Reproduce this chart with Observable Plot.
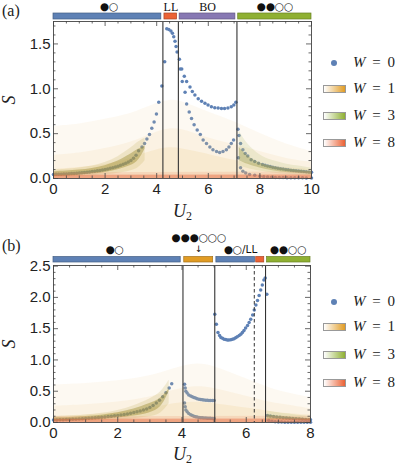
<!DOCTYPE html>
<html><head><meta charset="utf-8">
<script src="https://cdn.jsdelivr.net/npm/d3@7"></script>
<script src="https://cdn.jsdelivr.net/npm/@observablehq/plot@0.6"></script>
<style>
body{margin:0;background:#fff;}
#wrap{position:relative;width:395px;height:465px;overflow:hidden;font-family:"Liberation Sans",Arial,sans-serif;}
.panel{position:absolute;left:0;}
.lab{position:absolute;font-family:"Liberation Serif","Times New Roman",serif;color:#222;white-space:nowrap;line-height:1;}
.leg{position:absolute;font-family:"Liberation Serif","Times New Roman",serif;font-size:15px;color:#222;white-space:nowrap;line-height:1;}
.sw{position:absolute;width:21px;height:6px;border:1px solid #999;}
.dotl{position:absolute;width:6px;height:6px;border-radius:50%;background:#5e81b5;}
</style></head><body><div id="wrap"></div>
<script>
// ---------- Panel (a) data ----------
const aW0Rise = [[0,0.045],[0.1,0.046],[0.2,0.047],[0.3,0.048],[0.4,0.05],[0.5,0.051],[0.6,0.053],[0.7,0.055],[0.8,0.057],[0.9,0.059],[1.0,0.061],[1.1,0.064],[1.2,0.067],[1.3,0.07],[1.4,0.073],[1.5,0.077],[1.6,0.081],[1.7,0.085],[1.8,0.09],[1.9,0.095],[2.0,0.1],[2.1,0.106],[2.2,0.113],[2.3,0.12],[2.4,0.128],[2.5,0.137],[2.6,0.147],[2.7,0.158],[2.8,0.171],[2.9,0.185],[3.0,0.2],[3.1,0.225],[3.2,0.26],[3.3,0.31],[3.43,0.35],[3.53,0.39],[3.62,0.44],[3.72,0.49],[3.81,0.56],[3.9,0.63],[3.99,0.72],[4.08,0.85],[4.2,1.03],[4.31,1.3]];
const aW0LL = [[4.39,1.67],[4.47,1.66],[4.55,1.645],[4.61,1.62],[4.66,1.58],[4.71,1.53],[4.75,1.47],[4.79,1.41]];
const aW0BOstart = [[4.88,1.33],[4.91,1.22],[4.97,1.22]];
const aW0BOupper = [[5.07,1.14],[5.16,1.08],[5.29,1.02],[5.38,0.97],[5.48,0.93],[5.61,0.89],[5.74,0.86],[5.87,0.84],[5.99,0.82],[6.12,0.8],[6.25,0.79],[6.38,0.785],[6.51,0.78],[6.63,0.78],[6.76,0.785],[6.89,0.8],[6.99,0.82],[7.07,0.85]];
const aW0BOlower = [[4.99,1.08],[5.1,0.96],[5.16,0.83],[5.26,0.74],[5.35,0.67],[5.45,0.6],[5.57,0.54],[5.69,0.49],[5.8,0.43],[5.93,0.39],[6.06,0.35],[6.18,0.32],[6.32,0.3],[6.44,0.29],[6.57,0.3],[6.7,0.32],[6.8,0.35],[6.89,0.39],[6.98,0.43]];
const aW0RightUpper = [[7.15,0.55],[7.19,0.48],[7.25,0.39],[7.34,0.32],[7.43,0.28],[7.53,0.25],[7.66,0.21],[7.8,0.19],[7.95,0.17],[8.1,0.155],[8.2,0.147],[8.3,0.14],[8.4,0.133],[8.5,0.126],[8.6,0.12],[8.7,0.115],[8.8,0.11],[8.9,0.105],[9.0,0.1],[9.1,0.097],[9.2,0.093],[9.3,0.09],[9.4,0.087],[9.5,0.084],[9.6,0.081],[9.7,0.078],[9.8,0.075],[9.9,0.072],[10,0.07]];
const aW0RightLower = [[7.17,0.23],[7.25,0.12],[7.34,0.08],[7.45,0.06],[7.6,0.045],[7.8,0.035],[8.0,0.025],[8.15,0.02],[8.3,0.017],[8.45,0.014],[8.6,0.012],[8.75,0.011],[8.9,0.01],[9.05,0.009],[9.2,0.008],[9.35,0.008],[9.5,0.007],[9.65,0.007],[9.8,0.006],[10,0.006]];

const aCloudU     = [0,1,2,3,3.5,4,4.5,5,5.5,6,7,8,9,10];
const aCloudOuter = [0.58,0.6,0.66,0.72,0.78,0.84,0.88,0.86,0.8,0.74,0.64,0.5,0.38,0.3];
const aCloudMid   = [0.26,0.28,0.33,0.4,0.46,0.52,0.56,0.55,0.5,0.45,0.38,0.3,0.22,0.18];
const aCloudInner = [0.1,0.12,0.15,0.22,0.28,0.32,0.35,0.33,0.3,0.27,0.2,0.15,0.12,0.1];
const aOliveU  = [0,0.5,1,1.5,2,2.5,3,3.3,3.55];
const aOliveLo = [0.02,0.028,0.036,0.048,0.066,0.095,0.14,0.19,0.33];
const aOliveHi = [0.075,0.082,0.094,0.11,0.14,0.19,0.27,0.33,0.36];
const aGreenU  = [7.2,7.5,8,8.5,9,9.5,10];
const aGreenLo = [0.2,0.16,0.115,0.085,0.065,0.055,0.045];
const aGreenHi = [0.46,0.33,0.22,0.17,0.14,0.12,0.1];
const aRedU  = [0,10];
const aRedHi = [0.035,0.04];

const aLines = [4.24,4.84,7.11];
const aBar = [
  {x1:0,x2:4.18,c:"#5e81b5"},
  {x1:4.3,x2:4.79,c:"#eb6235"},
  {x1:4.89,x2:7.05,c:"#8778b3"},
  {x1:7.16,x2:10,c:"#8fb032"}];
const aLabels = [
  {u:2.15,t:"●○",serif:false},
  {u:4.55,t:"LL",serif:true},
  {u:5.97,t:"BO",serif:true},
  {u:8.58,t:"●●○○",serif:false}];
const aXTicks = [0,2,4,6,8,10];
const aYTicks = [0,0.5,1,1.5];

// ---------- Panel (b) data ----------
const bW0Rise = [[0,0.04],[0.1,0.041],[0.2,0.043],[0.3,0.044],[0.4,0.046],[0.5,0.048],[0.6,0.05],[0.7,0.053],[0.8,0.056],[0.9,0.059],[1.0,0.062],[1.1,0.066],[1.2,0.07],[1.3,0.074],[1.4,0.079],[1.5,0.084],[1.6,0.089],[1.7,0.094],[1.8,0.1],[1.9,0.106],[2.0,0.113],[2.1,0.12],[2.2,0.128],[2.3,0.137],[2.4,0.147],[2.5,0.158],[2.6,0.17],[2.7,0.183],[2.8,0.198],[2.9,0.215],[3.0,0.24],[3.1,0.27],[3.2,0.31],[3.3,0.355],[3.4,0.41],[3.5,0.475],[3.6,0.55],[3.68,0.62]];
const bW0MidUpper = [[4.08,0.61],[4.1,0.55],[4.12,0.5],[4.16,0.47],[4.21,0.44],[4.27,0.425],[4.32,0.41],[4.37,0.4],[4.42,0.39],[4.47,0.38],[4.53,0.372],[4.58,0.367],[4.63,0.363],[4.68,0.36],[4.74,0.357],[4.79,0.355],[4.84,0.353],[4.89,0.352],[4.95,0.35],[5.0,0.35]];
const bW0MidLower = [[4.08,0.31],[4.1,0.25],[4.12,0.2],[4.16,0.17],[4.21,0.145],[4.27,0.125],[4.32,0.11],[4.37,0.1],[4.42,0.092],[4.47,0.086],[4.53,0.081],[4.58,0.077],[4.63,0.074],[4.68,0.072],[4.74,0.07],[4.79,0.068],[4.84,0.067],[4.89,0.066],[4.95,0.065],[5.0,0.065]];
const bW0High = [[5.02,1.73],[5.07,1.57],[5.12,1.44],[5.17,1.39],[5.21,1.36],[5.26,1.345],[5.31,1.33],[5.36,1.325],[5.41,1.32],[5.46,1.32],[5.52,1.322],[5.57,1.33],[5.62,1.34],[5.67,1.355],[5.72,1.37],[5.78,1.39],[5.83,1.41],[5.88,1.44],[5.93,1.47],[5.98,1.51],[6.04,1.55],[6.09,1.6],[6.14,1.65],[6.2,1.72],[6.25,1.8],[6.3,1.88],[6.35,1.95],[6.4,2.03],[6.45,2.12],[6.5,2.2],[6.55,2.28],[6.59,2.31],[6.64,2.05]];
const bW0RightUpper = [[6.66,0.11],[6.75,0.102],[6.85,0.095],[6.95,0.088],[7.05,0.082],[7.15,0.077],[7.25,0.072],[7.35,0.068],[7.45,0.064],[7.55,0.06],[7.65,0.056],[7.75,0.052],[7.85,0.048],[7.95,0.045],[8.0,0.044]];
const bW0RightLower = [[6.7,0.03],[6.8,0.02],[6.9,0.012],[7.0,0.008],[7.1,0.006],[7.2,0.005],[7.3,0.005],[7.4,0.004],[7.5,0.004],[7.6,0.004],[7.7,0.004],[7.8,0.004],[7.9,0.004],[8.0,0.004]];

const bCloudU     = [0,1,2,3,3.5,4,4.5,5,5.5,6,6.5,7,8];
const bCloudOuter = [0.6,0.62,0.66,0.74,0.82,0.9,0.95,0.9,0.8,0.7,0.6,0.5,0.4];
const bCloudMid   = [0.26,0.28,0.32,0.4,0.48,0.55,0.58,0.55,0.48,0.42,0.35,0.3,0.22];
const bCloudInner = [0.1,0.12,0.15,0.22,0.28,0.32,0.33,0.3,0.27,0.23,0.2,0.15,0.12];
const bOliveU  = [0,0.5,1,1.5,2,2.5,3,3.35,3.6];
const bOliveLo = [0.02,0.025,0.034,0.048,0.068,0.1,0.15,0.22,0.5];
const bOliveHi = [0.075,0.08,0.095,0.115,0.15,0.21,0.3,0.38,0.54];
const bGreenU  = [6.65,7.2,8];
const bGreenLo = [0.05,0.04,0.03];
const bGreenHi = [0.16,0.12,0.08];
const bRedU  = [0,8];
const bRedHi = [0.05,0.055];

const bLines = [4.03,5.02,6.6];
const bDashed = [6.25];
const bBar = [
  {x1:0,x2:3.96,c:"#5e81b5"},
  {x1:4.07,x2:4.97,c:"#e19c24"},
  {x1:5.07,x2:6.27,c:"#5e81b5"},
  {x1:6.31,x2:6.56,c:"#eb6235"},
  {x1:6.65,x2:8,c:"#8fb032"}];
const bLabels = [
  {u:1.9,t:"●○",row:0},
  {u:4.52,t:"●●●○○○",row:1},
  {u:4.52,t:"↓",row:2},
  {u:5.82,t:"●○/LL",row:0},
  {u:7.3,t:"●●○○",row:0}];
const bXTicks = [0,2,4,6,8];
const bYTicks = [0,0.5,1,1.5,2,2.5];

const legendItems = [
  {w:"0",kind:"dot",c:"#5e81b5"},
  {w:"1",kind:"sw",c:"#e19c24"},
  {w:"3",kind:"sw",c:"#8fb032"},
  {w:"8",kind:"sw",c:"#eb6235"}];

const pairs = arr => arr.map(([u,s]) => ({u, s}));
const band = (U, lo, hi) => U.map((u,i) => ({u, lo: Array.isArray(lo) ? lo[i] : lo, hi: hi[i]}));

function range(a, b, step){ const r=[]; for(let v=a; v<=b+1e-9; v+=step) r.push(+v.toFixed(4)); return r; }

function makePanel(o){
  const pw = 395 - o.ml - o.mr, ph = o.h - o.mt - o.mb;
  const [x0,x1] = o.xd, [y0,y1] = o.yd;
  const kx = (x1-x0)/pw, ky = (y1-y0)/ph;
  const xMinor = range(x0, x1, 0.5), yMinor = range(y0, y1, 0.1);
  const isMajX = v => Math.abs(v/2 - Math.round(v/2)) < 1e-6;
  const isMajY = v => Math.abs(v/0.5 - Math.round(v/0.5)) < 1e-6;
  const len = v => v ? 5 : 2.5;
  const tickStroke = {stroke:"#444", strokeWidth:0.8};
  const barY1 = y1 + o.barGap*ky, barY2 = y1 + (o.barGap+o.barH)*ky;
  const bars = o.bar.map(d => ({...d, y1:barY1, y2:barY2, s:d3.color(d.c).darker(0.9).formatHex()}));
  const marks = [
    Plot.dot(o.dots, {x:"u", y:"s", r:1.75, fill:"#5e81b5"}),
    ...o.clouds.map(c => Plot.areaY(c.data, {x:"u", y1:"lo", y2:"hi", fill:c.fill, fillOpacity:c.op, curve:c.curve || "basis"})),
    Plot.ruleX(o.lines, {stroke:"#333", strokeWidth:1.1}),
    ...(o.dashed ? [Plot.ruleX(o.dashed, {stroke:"#333", strokeWidth:1, strokeDasharray:"3.5,2.5"})] : []),
    Plot.frame({stroke:"#555", strokeWidth:1}),
    // inward ticks
    Plot.ruleX(xMinor, {x:d=>d, y1:()=>y0, y2:d=>y0+len(isMajX(d))*ky, ...tickStroke}),
    Plot.ruleX(xMinor, {x:d=>d, y1:()=>y1, y2:d=>y1-len(isMajX(d))*ky, ...tickStroke}),
    Plot.ruleY(yMinor, {y:d=>d, x1:()=>x0, x2:d=>x0+len(isMajY(d))*kx, ...tickStroke}),
    Plot.ruleY(yMinor, {y:d=>d, x1:()=>x1, x2:d=>x1-len(isMajY(d))*kx, ...tickStroke}),
    Plot.axisX(o.xTicks, {tickSize:0, tickPadding:5, fontSize:15, tickFormat:d=>String(d), label:null}),
    Plot.axisY(o.yTicks, {tickSize:0, tickPadding:3, fontSize:15, tickFormat:d3.format(".1f"), label:null}),
    // phase bar
    Plot.rect(bars, {x1:"x1", x2:"x2", y1:"y1", y2:"y2", fill:"c", stroke:"s", strokeWidth:0.7}),
    ...o.labelMarks
  ];
  return Plot.plot({
    width:395, height:o.h,
    marginLeft:o.ml, marginRight:o.mr, marginTop:o.mt, marginBottom:o.mb,
    x:{domain:o.xd, axis:null},
    y:{domain:o.yd, axis:null},
    style:{fontFamily:"'Liberation Sans', Arial, sans-serif", color:"#222", background:"transparent", overflow:"visible"},
    marks
  });
}

const cloudLayers = (U, outer, mid, inner, oliveU, oliveLo, oliveHi, greenU, greenLo, greenHi, redU, redHi) => [
  {data:band(U,0,outer), fill:"#f0d49a", op:0.13},
  {data:band(U,0,mid), fill:"#ecc678", op:0.12},
  {data:band(U,0,inner), fill:"#e6b24e", op:0.12},
  {data:band(oliveU,oliveLo.map(v=>v*0.6),oliveHi.map(v=>v*1.25)), fill:"#c0a84e", op:0.2},
  {data:band(oliveU,oliveLo,oliveHi), fill:"#98892a", op:0.42},
  {data:band(greenU,greenLo.map(v=>v*0.7),greenHi.map(v=>v*1.15)), fill:"#b4bf70", op:0.2},
  {data:band(greenU,greenLo,greenHi.map(v=>v*0.75)), fill:"#8f9038", op:0.35},
  {data:band(redU,0,redHi.map(v=>v*1.8)), fill:"#eb8a65", op:0.2, curve:"linear"},
  {data:band(redU,0,redHi), fill:"#e8663c", op:0.45, curve:"linear"}
];

const wrap = document.getElementById("wrap");
const circFont = "'DejaVu Sans', sans-serif";

const chartA = makePanel({
  h:225, ml:53, mr:84, mt:21, mb:47, xd:[0,10], yd:[0,1.75],
  dots:pairs([...aW0Rise, ...aW0LL, ...aW0BOstart, ...aW0BOupper, ...aW0BOlower, ...aW0RightUpper, ...aW0RightLower]),
  clouds:cloudLayers(aCloudU,aCloudOuter,aCloudMid,aCloudInner,aOliveU,aOliveLo,aOliveHi,aGreenU,aGreenLo,aGreenHi,aRedU,aRedHi),
  lines:aLines, bar:aBar, barGap:2, barH:6, xTicks:aXTicks, yTicks:aYTicks,
  labelMarks:[
    Plot.text(aLabels.filter(d=>!d.serif), {x:"u", text:"t", frameAnchor:"top", lineAnchor:"middle", dy:-15, fontSize:10.5, fontFamily:circFont, fill:"#111"}),
    Plot.text(aLabels.filter(d=>d.serif), {x:"u", text:"t", frameAnchor:"top", lineAnchor:"middle", dy:-14, fontSize:12, fontFamily:"'Liberation Serif', serif", fill:"#111"})
  ]
});
chartA.classList.add("panel"); chartA.style.top = "0px";
wrap.appendChild(chartA);

const chartB = makePanel({
  h:240, ml:53, mr:85, mt:40, mb:43, xd:[0,8], yd:[0,2.51],
  dots:pairs([...bW0Rise, ...bW0MidUpper, ...bW0MidLower, ...bW0High, ...bW0RightUpper, ...bW0RightLower]),
  clouds:cloudLayers(bCloudU,bCloudOuter,bCloudMid,bCloudInner,bOliveU,bOliveLo,bOliveHi,bGreenU,bGreenLo,bGreenHi,bRedU,bRedHi),
  lines:bLines, dashed:bDashed, bar:bBar, barGap:3, barH:5.5, xTicks:bXTicks, yTicks:bYTicks,
  labelMarks:[
    Plot.text(bLabels.filter(d=>d.row===0), {x:"u", text:"t", frameAnchor:"top", lineAnchor:"middle", dy:-15.5, fontSize:10.5, fontFamily:circFont, fill:"#111"}),
    Plot.text(bLabels.filter(d=>d.row===1), {x:"u", text:"t", frameAnchor:"top", lineAnchor:"middle", dy:-28, fontSize:10.5, fontFamily:circFont, fill:"#111"}),
    Plot.text(bLabels.filter(d=>d.row===2), {x:"u", text:"t", frameAnchor:"top", lineAnchor:"middle", dy:-16.5, fontSize:9, fontFamily:circFont, fill:"#111"})
  ]
});
chartB.classList.add("panel"); chartB.style.top = "225px";
wrap.appendChild(chartB);

// text labels
function addLab(html, x, y, size, extra){
  const d = document.createElement("div");
  d.className = "lab"; d.innerHTML = html;
  d.style.left = x + "px"; d.style.top = y + "px"; d.style.fontSize = size + "px";
  if (extra) Object.assign(d.style, extra);
  wrap.appendChild(d);
  return d;
}
addLab("(a)", 2, 3, 16);
addLab("(b)", 2, 238, 16);
addLab("<i>S</i>", 4, 91, 18, {transform:"rotate(-90deg)", transformOrigin:"50% 50%"});
addLab("<i>S</i>", 4, 335, 18, {transform:"rotate(-90deg)", transformOrigin:"50% 50%"});
addLab("<i>U</i><sub style='font-size:12px;vertical-align:-3px'>2</sub>", 173, 202, 18);
addLab("<i>U</i><sub style='font-size:12px;vertical-align:-3px'>2</sub>", 173, 445, 18);

// legends
function addLegend(ys){
  legendItems.forEach((it, i) => {
    const y = ys[i];
    const m = document.createElement("div");
    if (it.kind === "dot") {
      m.className = "dotl"; m.style.left = "331px"; m.style.top = (y-3) + "px"; m.style.background = it.c;
    } else {
      m.className = "sw"; m.style.left = "323px"; m.style.top = (y-4) + "px";
      m.style.background = `linear-gradient(to right, #ffffff, ${it.c})`;
    }
    wrap.appendChild(m);
    const t = document.createElement("div");
    t.className = "leg"; t.innerHTML = `<i>W</i>&thinsp; = &thinsp;${it.w}`;
    t.style.left = "353px"; t.style.top = (y-8) + "px";
    wrap.appendChild(t);
  });
}
addLegend([63,89,116,143]);
addLegend([302,327,355,383]);
</script></body></html>
